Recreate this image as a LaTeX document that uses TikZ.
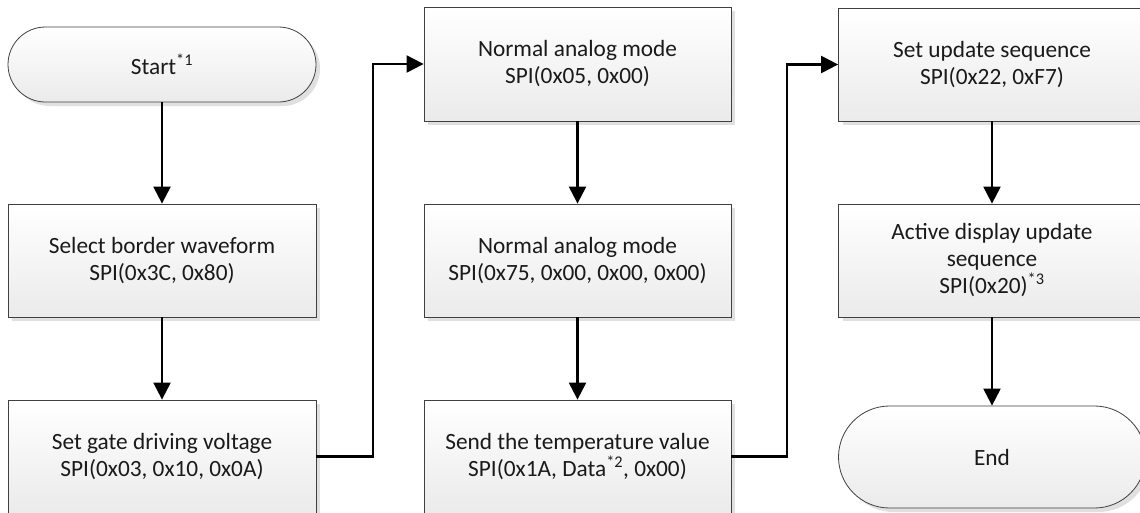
\documentclass[tikz,border=0pt]{standalone}
\usepackage{fontspec}
\setmainfont{Carlito}
\usetikzlibrary{arrows.meta,shadows}
\definecolor{bordergray}{HTML}{404040}
\definecolor{txt}{HTML}{1A1A1A}
\tikzset{
  procbox/.style={draw=bordergray, line width=0.8pt, top color=white, bottom color=black!8,
    minimum width=307pt, minimum height=113pt, align=center, inner sep=0pt, text=txt,
    font=\fontsize{23.3}{27}\selectfont,
    drop shadow={shadow xshift=4pt, shadow yshift=-4pt, fill=black!12, opacity=1}},
  termbox/.style={procbox},
  flow/.style={line width=2.2pt, black, -{Triangle[length=17pt,width=17pt]}},
}
\begin{document}
\begin{tikzpicture}[x=1pt,y=-1pt]
\useasboundingbox[fill=white] (0,0) rectangle (1140,512);
% column 1
\node[termbox, minimum width=308pt, minimum height=75pt, rounded corners=37.5pt] (start) at (162,64.5) {Start\textsuperscript{*1}};
\node[procbox, minimum width=308pt] (border) at (162,260.5) {Select border waveform\\SPI(0x3C, 0x80)};
\node[procbox, minimum width=308pt] (gate) at (162,456.5) {Set gate driving voltage\\SPI(0x03, 0x10, 0x0A)};
% column 2
\node[procbox, minimum height=114pt] (analog1) at (577.5,64) {Normal analog mode\\SPI(0x05, 0x00)};
\node[procbox] (analog2) at (577.5,260.5) {Normal analog mode\\SPI(0x75, 0x00, 0x00, 0x00)};
\node[procbox] (temp) at (577.5,456.5) {Send the temperature value\\SPI(0x1A, Data\textsuperscript{*2}, 0x00)};
% column 3
\node[procbox] (seq) at (992,64.5) {Set update sequence\\SPI(0x22, 0xF7)};
\node[procbox] (active) at (992,260.5) {Active display update\\sequence\\SPI(0x20)\textsuperscript{*3}};
\node[termbox, minimum height=102pt, rounded corners=51pt] (end) at (992,457) {End};
% connectors
\coordinate (j1a) at (373,456.5);
\coordinate (j1b) at (373,64);
\coordinate (j2a) at (787,456.5);
\coordinate (j2b) at (787,64.5);
\draw[flow] (start) -- (border);
\draw[flow] (border) -- (gate);
\draw[flow] (gate.east) -- (j1a) -- (j1b) -- (analog1.west);
\draw[flow] (analog1) -- (analog2);
\draw[flow] (analog2) -- (temp);
\draw[flow] (temp.east) -- (j2a) -- (j2b) -- (seq.west);
\draw[flow] (seq) -- (active);
\draw[flow] (active) -- (end);
\end{tikzpicture}
\end{document}
